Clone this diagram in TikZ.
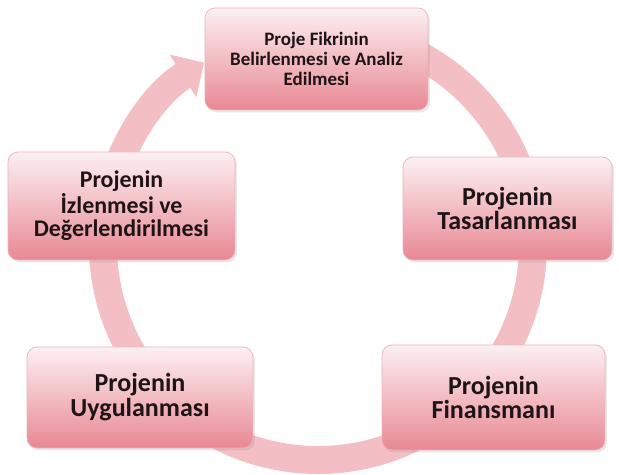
\documentclass[tikz,border=0pt]{standalone}
\usepackage{fontspec}
\setmainfont{Carlito}
\usepackage{xcolor}
\usepackage{tikz}
\usetikzlibrary{arrows.meta, shadows}

\begin{document}
\begin{tikzpicture}[x=0.02cm, y=0.02cm,
  stagebox/.style={rectangle, rounded corners=0.2cm, draw=boxedge, line width=0.4pt,
    top color=boxtop, bottom color=boxbottom, text=boxtext, align=center,
    inner sep=2pt, drop shadow={opacity=0.18, shadow xshift=0.04cm, shadow yshift=-0.05cm},
    font=\bfseries\fontsize{14.8}{14.2}\selectfont},
  ring/.style={draw=ringcol, line width=0.56cm,
    -{Triangle[width=0.98cm, length=0.5cm]}}]
\definecolor{boxtop}{RGB}{252,240,242}
\definecolor{boxbottom}{RGB}{232,136,147}
\definecolor{boxedge}{RGB}{236,178,185}
\definecolor{boxtext}{RGB}{30,20,22}
\definecolor{ringcol}{RGB}{243,190,196}

\useasboundingbox (0,0) rectangle (619,475);

% Cycle
\coordinate (c) at (318,230);
\draw[ring] ([shift={(80:215)}]c) arc[start angle=80, end angle=-238, radius=215];

% Stages
\node[stagebox, minimum width=4.46cm, minimum height=2.04cm,
  font=\bfseries\fontsize{10.8}{11.4}\selectfont] (fikir) at (316.5,416)
  {Proje Fikrinin\\Belirlenmesi ve Analiz\\Edilmesi};
\node[stagebox, minimum width=4.18cm, minimum height=2.06cm] (tasarim) at (507.5,266.5)
  {Projenin\\Tasarlanması};
\node[stagebox, minimum width=4.46cm, minimum height=2.1cm] (finans) at (493.5,77.5)
  {Projenin\\Finansmanı};
\node[stagebox, minimum width=4.52cm, minimum height=2.02cm] (uygulama) at (140,77.5)
  {Projenin\\Uygulanması};
\node[stagebox, minimum width=4.54cm, minimum height=2.16cm,
  font=\bfseries\fontsize{13.6}{13.2}\selectfont] (izleme) at (121.5,269)
  {Projenin\\İzlenmesi ve\\Değerlendirilmesi};

\end{tikzpicture}
\end{document}
